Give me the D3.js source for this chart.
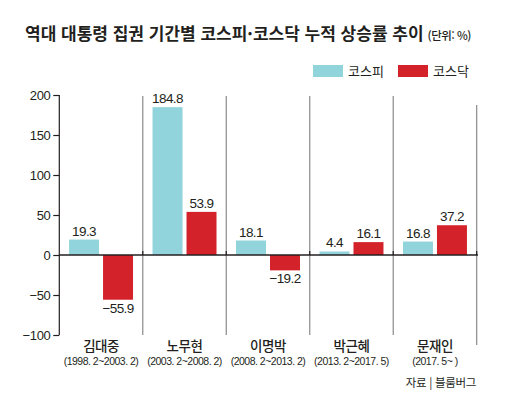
<!DOCTYPE html>
<html lang="ko">
<head>
<meta charset="UTF-8">
<title>역대 대통령 집권 기간별 코스피·코스닥 누적 상승률 추이</title>
<script src="https://d3js.org/d3.v7.min.js"></script>
<style>
html, body { margin: 0; padding: 0; background: #fff; }
svg text { font-family: "Liberation Sans", "Noto Sans CJK KR", sans-serif; fill: #231f20; }
.kr { font-family: "Noto Sans CJK KR", sans-serif; }
</style>
</head>
<body>
<div id="chart"></div>
<script>
// data
var presidents = ["김대중", "노무현", "이명박", "박근혜", "문재인"];
var terms = ["(1998. 2~2003. 2)", "(2003. 2~2008. 2)", "(2008. 2~2013. 2)", "(2013. 2~2017. 5)", "(2017. 5~ )"];
var kospi = [19.3, 184.8, 18.1, 4.4, 16.8];
var kosdaq = [-55.9, 53.9, -19.2, 16.1, 37.2];
var seriesNames = ["코스피", "코스닥"];
var yTicks = [-100, -50, 0, 50, 100, 150, 200];

var colors = { "코스피": "#92d4dc", "코스닥": "#d3222a" };

var W = 519, H = 400;
var svg = d3.select("#chart").append("svg")
    .attr("width", W)
    .attr("height", H);

// title
var title = svg.append("text")
    .attr("class", "kr")
    .attr("x", 25)
    .attr("y", 40)
    .style("font-size", "17px")
    .style("font-weight", "bold")
    .style("letter-spacing", "0px");
title.append("tspan").text("역대 대통령 집권 기간별 코스피·코스닥 누적 상승률 추이");
title.append("tspan")
    .attr("dx", 4)
    .style("font-size", "11.5px")
    .style("font-weight", "500")
    .style("letter-spacing", "-0.5px")
    .text("(단위: %)");

// legend
var legend = svg.append("g");
var legX = [313, 398];
seriesNames.forEach(function(s, i) {
    legend.append("rect")
        .attr("x", legX[i]).attr("y", 65)
        .attr("width", 30).attr("height", 12)
        .attr("fill", colors[s]);
    legend.append("text")
        .attr("class", "kr")
        .attr("x", legX[i] + 35).attr("y", 76)
        .style("font-size", "13px")
        .text(s);
});

// scales
var y = d3.scaleLinear().domain([-100, 200]).range([335, 95]);
var x = d3.scaleBand().domain(presidents).range([59.3, 476.7]).padding(0);
var xs = d3.scaleBand().domain(seriesNames).range([0, x.bandwidth()])
    .paddingInner(0.118).paddingOuter(0.287);

var rows = presidents.map(function(p, i) {
    return { name: p, term: terms[i], values: [
        { key: "코스피", v: kospi[i] },
        { key: "코스닥", v: kosdaq[i] }
    ] };
});

// group dividers
presidents.forEach(function(p, i) {
    var xx = x(p) + x.bandwidth();
    var last = i === presidents.length - 1;
    svg.append("line")
        .attr("x1", xx).attr("x2", xx)
        .attr("y1", last ? 105 : 96)
        .attr("y2", last ? 345 : 335)
        .attr("stroke", "#8a8a8a")
        .attr("stroke-width", 1.2);
    // little tick on zero line
    svg.append("line")
        .attr("x1", xx).attr("x2", xx)
        .attr("y1", y(0) - 4).attr("y2", y(0))
        .attr("stroke", "#231f20")
        .attr("stroke-width", 1.2);
});

// bars
var groups = svg.selectAll(".grp")
    .data(rows)
    .enter().append("g")
    .attr("class", "grp")
    .attr("transform", function(d) { return "translate(" + x(d.name) + ",0)"; });

groups.selectAll("rect")
    .data(function(d) { return d.values; })
    .enter().append("rect")
    .attr("x", function(d) { return xs(d.key); })
    .attr("width", xs.bandwidth())
    .attr("y", function(d) { return y(Math.max(0, d.v)); })
    .attr("height", function(d) { return Math.abs(y(d.v) - y(0)); })
    .attr("fill", function(d) { return colors[d.key]; });

// value labels
var fmt = function(v) { return (v < 0 ? "\u2212" : "") + Math.abs(v).toFixed(1); };
groups.selectAll(".val")
    .data(function(d) { return d.values; })
    .enter().append("text")
    .attr("class", "val")
    .attr("x", function(d) { return xs(d.key) + xs.bandwidth() / 2; })
    .attr("y", function(d) { return d.v >= 0 ? y(d.v) - 4 : y(d.v) + 13; })
    .attr("text-anchor", "middle")
    .style("font-size", "13.5px")
    .style("letter-spacing", "-0.6px")
    .text(function(d) { return fmt(d.v); });

// y axis
var yAxis = d3.axisLeft(y).tickValues(yTicks).tickSize(6).tickPadding(3)
    .tickFormat(function(d) { return d < 0 ? "\u2212" + Math.abs(d) : d; });
var ya = svg.append("g")
    .attr("transform", "translate(59.3,0)")
    .call(yAxis);
ya.select(".domain").attr("stroke", "#231f20").attr("stroke-width", 1.2)
    .attr("d", "M0," + y(200) + "V" + y(-100));
ya.selectAll(".tick line").attr("stroke", "#231f20").attr("stroke-width", 1.2);
ya.selectAll(".tick text")
    .style("font-family", "Liberation Sans, sans-serif")
    .style("font-size", "13px")
    .style("letter-spacing", "-0.4px")
    .attr("fill", "#231f20");

// zero line
svg.append("line")
    .attr("x1", 59.3).attr("x2", 478)
    .attr("y1", y(0)).attr("y2", y(0))
    .attr("stroke", "#231f20")
    .attr("stroke-width", 1.4);

// category labels
groups.append("text")
    .attr("class", "kr")
    .attr("x", x.bandwidth() / 2)
    .attr("y", 351)
    .attr("text-anchor", "middle")
    .style("font-size", "13.5px")
    .style("font-weight", "500")
    .style("letter-spacing", "-0.5px")
    .text(function(d) { return d.name; });

groups.append("text")
    .attr("x", x.bandwidth() / 2)
    .attr("y", 365)
    .attr("text-anchor", "middle")
    .style("font-family", "Liberation Sans Narrow, Liberation Sans, sans-serif")
    .style("font-size", "10.5px")
    .style("letter-spacing", "-0.5px")
    .text(function(d) { return d.term; });

// source
svg.append("text")
    .attr("class", "kr")
    .attr("x", 476)
    .attr("y", 387)
    .attr("text-anchor", "end")
    .style("font-size", "11.5px")
    .style("letter-spacing", "-0.3px")
    .attr("fill", "#444")
    .text("자료 | 블룸버그");
</script>
</body>
</html>
